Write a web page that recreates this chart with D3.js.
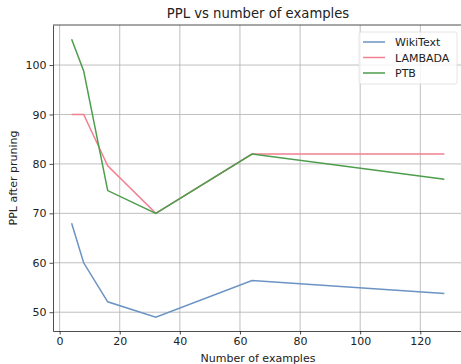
<!DOCTYPE html>
<html>
<head>
<meta charset="utf-8">
<script src="https://cdn.jsdelivr.net/npm/d3@7"></script>
<style>
  body { margin: 0; background: #fff; }
  text { font-family: "DejaVu Sans", sans-serif; fill: #222; }
</style>
</head>
<body>
<div id="chart"></div>
<script>
// data
const examples = [4, 8, 16, 32, 64, 128];
const wikiText = [68.0, 60.0, 52.1, 49.0, 56.4, 53.8];
const lambada = [90.0, 90.0, 79.6, 70.0, 82.0, 82.0];
const ptb = [105.2, 98.8, 74.6, 70.0, 82.0, 76.9];
const seriesNames = ["WikiText", "LAMBADA", "PTB"];
const seriesColors = ["#6a93c3", "#f2808e", "#4c9d4c"];
const xTicks = [0, 20, 40, 60, 80, 100, 120];
const yTicks = [50, 60, 70, 80, 90, 100];

const width = 461, height = 364;
const margin = { top: 25, right: -2, bottom: 33, left: 53 };

const svg = d3.select("#chart").append("svg")
  .attr("width", width)
  .attr("height", height);

const x = d3.scaleLinear()
  .domain([-2.2, 134.2])
  .range([margin.left, width - margin.right]);

const y = d3.scaleLinear()
  .domain([46.2, 108.1])
  .range([height - margin.bottom, margin.top]);

const g = svg.append("g");

// grid
g.selectAll("line.vgrid").data(xTicks).enter().append("line")
  .attr("class", "vgrid")
  .attr("x1", d => x(d)).attr("x2", d => x(d))
  .attr("y1", y.range()[0]).attr("y2", y.range()[1])
  .attr("stroke", "#b0b0b0").attr("stroke-width", 0.8);

g.selectAll("line.hgrid").data(yTicks).enter().append("line")
  .attr("class", "hgrid")
  .attr("x1", x.range()[0]).attr("x2", x.range()[1])
  .attr("y1", d => y(d)).attr("y2", d => y(d))
  .attr("stroke", "#b0b0b0").attr("stroke-width", 0.8);

// lines
const series = [wikiText, lambada, ptb];
const line = d3.line()
  .x((d, i) => x(examples[i]))
  .y(d => y(d));

series.forEach((vals, k) => {
  g.append("path")
    .datum(vals)
    .attr("d", line)
    .attr("fill", "none")
    .attr("stroke", seriesColors[k])
    .attr("stroke-width", 1.5);
});

// axes
const xAxis = d3.axisBottom(x).tickValues(xTicks).tickSize(3.5).tickSizeOuter(0).tickPadding(3);
const yAxis = d3.axisLeft(y).tickValues(yTicks).tickSize(3.5).tickSizeOuter(0).tickPadding(3);

const gx = svg.append("g")
  .attr("transform", `translate(0,${y.range()[0]})`)
  .call(xAxis);
const gy = svg.append("g")
  .attr("transform", `translate(${x.range()[0]},0)`)
  .call(yAxis);

[gx, gy].forEach(a => {
  a.selectAll("text").style("font-size", "11px").style("font-family", "DejaVu Sans").attr("fill", "#222");
  a.select(".domain").attr("stroke", "#222").attr("stroke-width", 0.8);
  a.selectAll(".tick line").attr("stroke", "#222").attr("stroke-width", 0.8);
});

// top spine
svg.append("line")
  .attr("x1", x.range()[0]).attr("x2", width)
  .attr("y1", y.range()[1]).attr("y2", y.range()[1])
  .attr("stroke", "#222").attr("stroke-width", 0.8);

const cx = (x.range()[0] + x.range()[1]) / 2;

svg.append("text")
  .attr("x", cx).attr("y", 18)
  .attr("text-anchor", "middle")
  .style("font-size", "13.2px")
  .text("PPL vs number of examples");

svg.append("text")
  .attr("x", cx).attr("y", 362)
  .attr("text-anchor", "middle")
  .style("font-size", "11px")
  .text("Number of examples");

svg.append("text")
  .attr("transform", `translate(17,${(y.range()[0] + y.range()[1]) / 2}) rotate(-90)`)
  .attr("text-anchor", "middle")
  .style("font-size", "11px")
  .text("PPL after pruning");

// legend
const legend = svg.append("g").attr("transform", "translate(359,32)");
legend.append("rect")
  .attr("width", 98).attr("height", 52)
  .attr("rx", 2)
  .attr("fill", "#fff").attr("fill-opacity", 0.8)
  .attr("stroke", "#ddd").attr("stroke-width", 0.8);

seriesNames.forEach((name, i) => {
  const ly = 10 + i * 15.5;
  legend.append("line")
    .attr("x1", 4).attr("x2", 26)
    .attr("y1", ly).attr("y2", ly)
    .attr("stroke", seriesColors[i]).attr("stroke-width", 1.5);
  legend.append("text")
    .attr("x", 36).attr("y", ly + 4)
    .style("font-size", "11px")
    .text(name);
});
</script>
</body>
</html>
